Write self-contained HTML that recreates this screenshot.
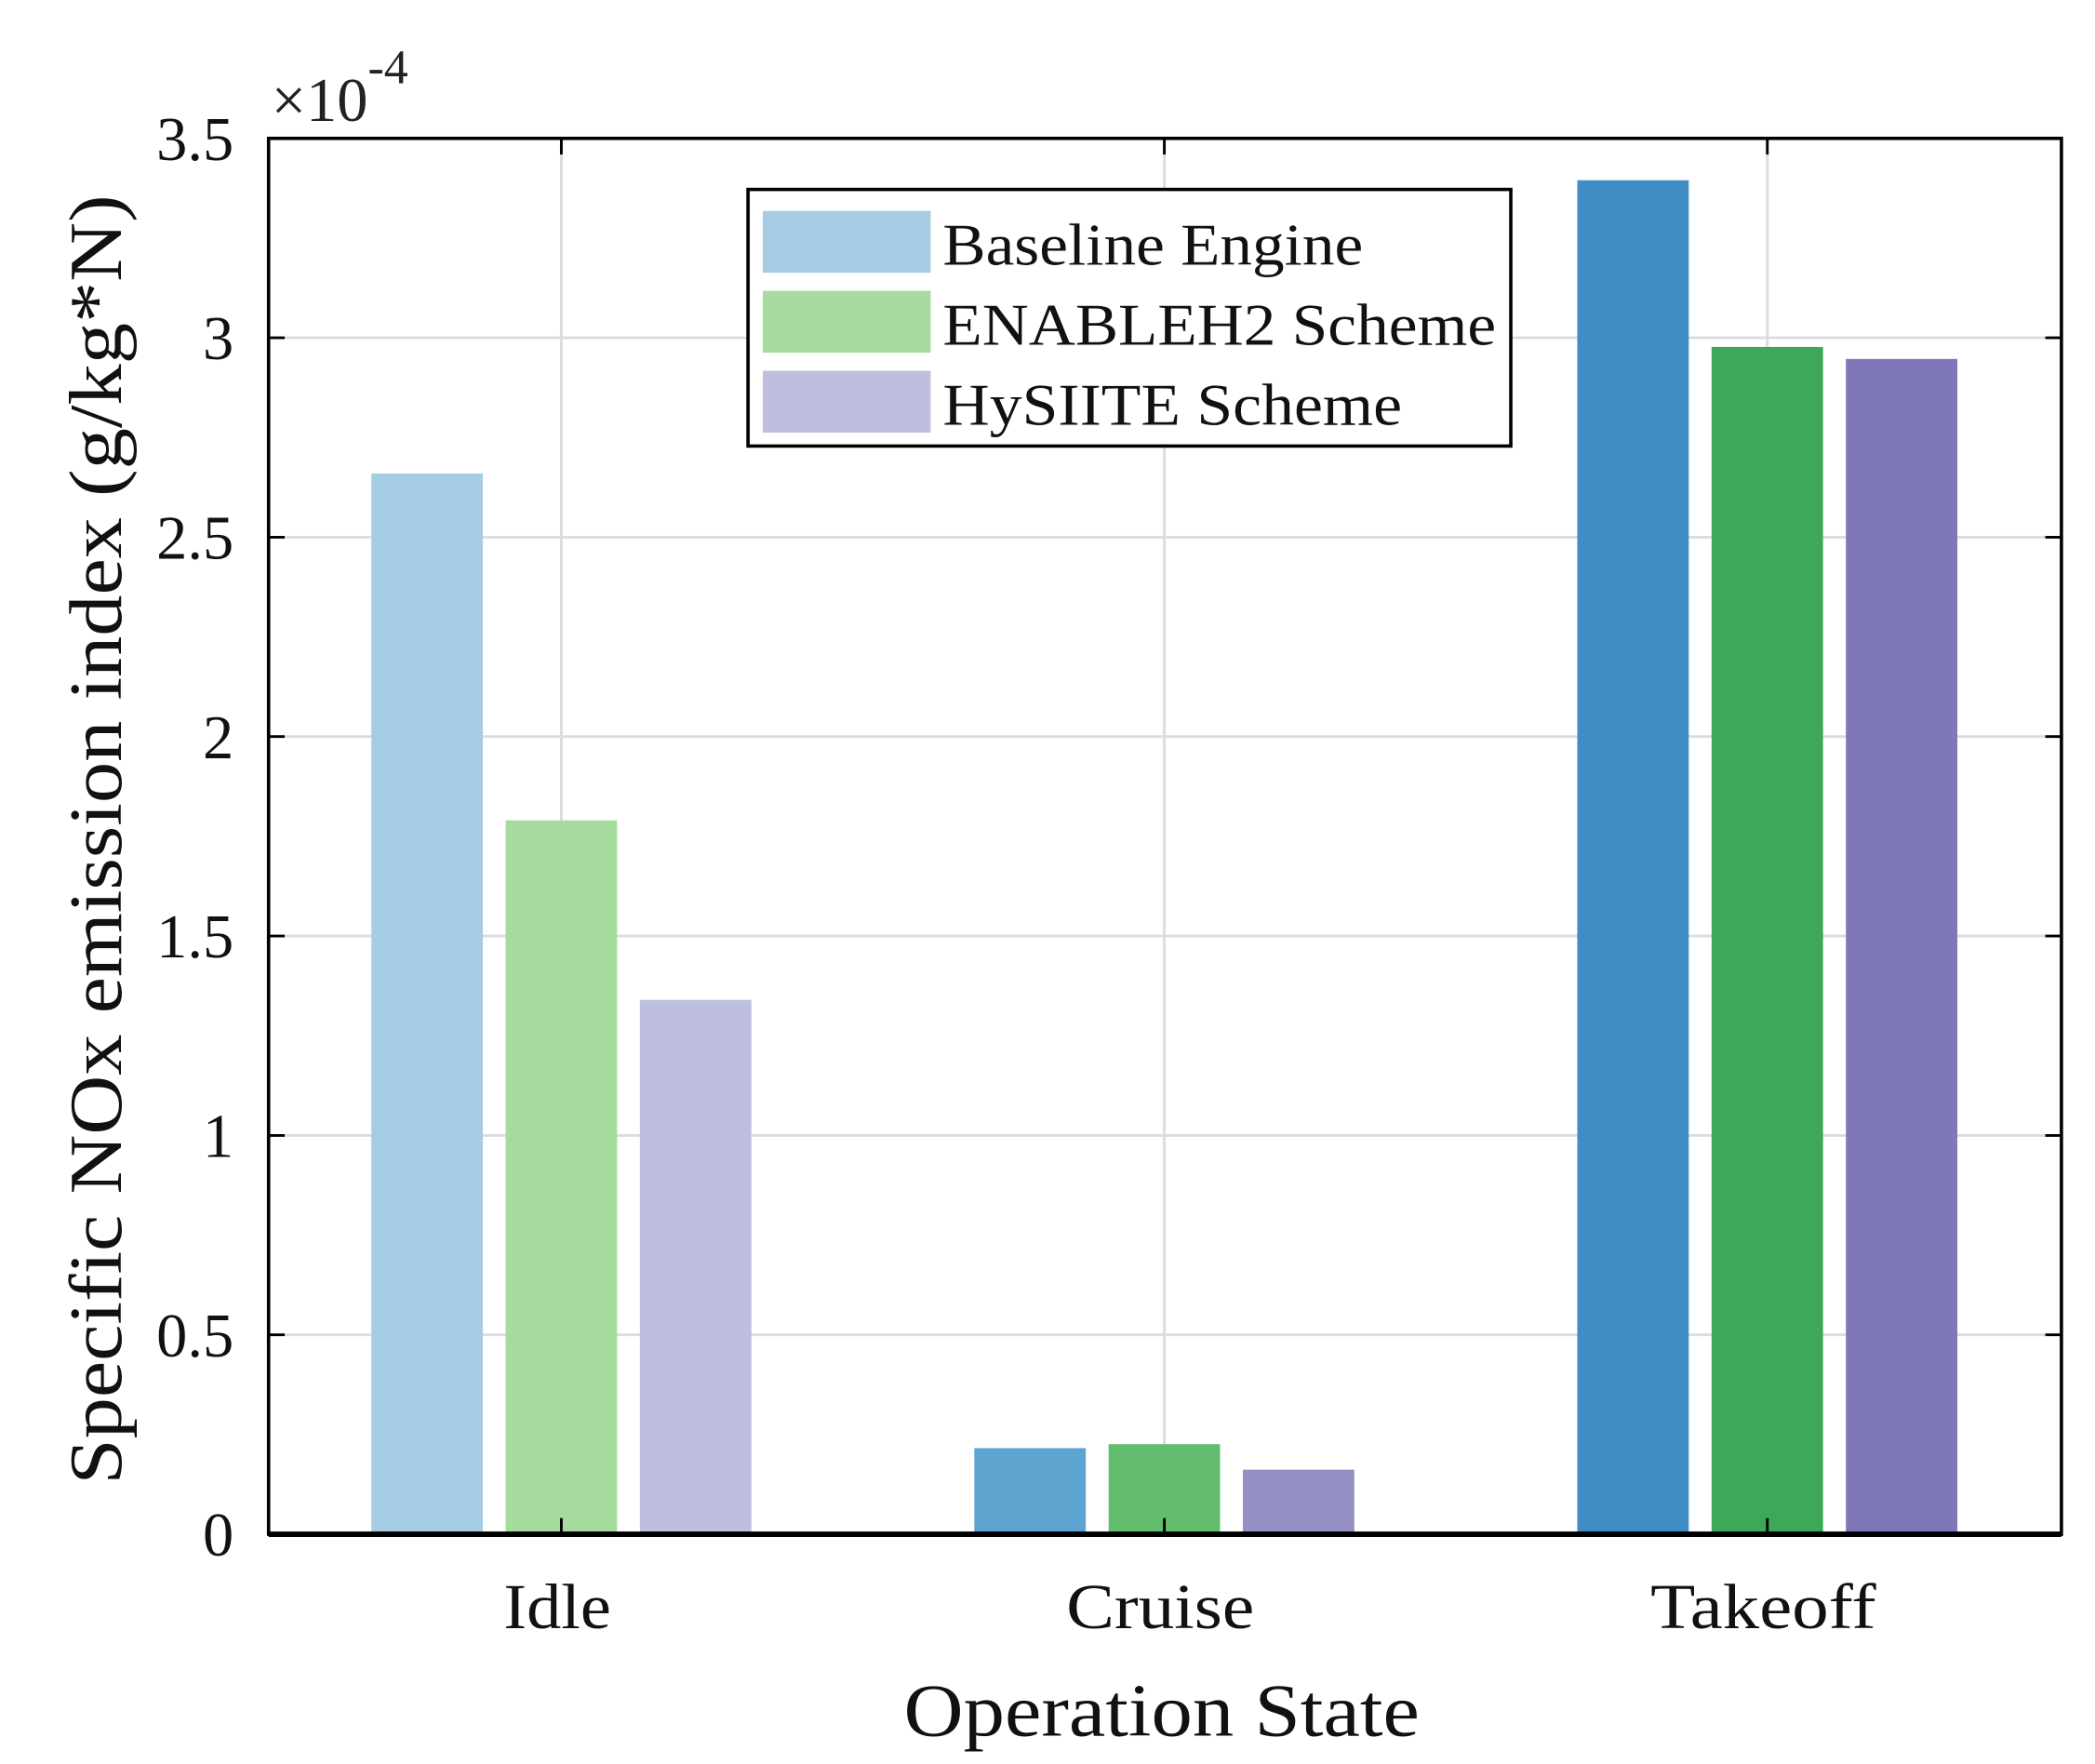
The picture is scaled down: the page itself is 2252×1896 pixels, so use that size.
<!DOCTYPE html>
<html><head><meta charset="utf-8"><style>
html,body{margin:0;padding:0;background:#fff;}
svg{display:block;font-family:"Liberation Serif",serif;}
</style></head><body>
<svg id="chart" width="2252" height="1896" viewBox="0 0 1560 1313" preserveAspectRatio="none" xmlns="http://www.w3.org/2000/svg">
<g id="grid"></g><g id="bars"></g><g id="axes"></g>
</svg>
<script>
const categories = ["Idle", "Cruise", "Takeoff"];
const seriesNames = ["Baseline Engine", "ENABLEH2 Scheme", "HySIITE Scheme"];
const baseline = [2.66, 0.216, 3.395];
const enableh2 = [1.79, 0.226, 2.977];
const hysiite = [1.34, 0.162, 2.947];
const yTicks = [0, 0.5, 1, 1.5, 2, 2.5, 3, 3.5];
const yTickLabels = ["0", "0.5", "1", "1.5", "2", "2.5", "3", "3.5"];

const NS = "http://www.w3.org/2000/svg";
const L = 200, R = 1535, T = 103, B = 1142;
const yMax = 3.5;
function y(v){ return B - (v / yMax) * (B - T); }
function x(i){ return 418 + 449 * i; }
const series = [baseline, enableh2, hysiite];
const offsets = [-100, 0, 100];
const barW = 83;
const colors = [
  ["#a6cce3", "#a6db9e", "#bebfde"],
  ["#5ea4d0", "#63bd6e", "#9590c4"],
  ["#3f8dc4", "#3ea85a", "#7f78b8"]
];
const legendLens = [313, 412, 342];
const catLens = [80, 140, 168];
function mk(tag, attrs, parent){
  const e = document.createElementNS(NS, tag);
  for (const k in attrs) e.setAttribute(k, attrs[k]);
  parent.appendChild(e); return e;
}
const grid = document.getElementById("grid");
const bars = document.getElementById("bars");
const axes = document.getElementById("axes");

yTicks.forEach((t, i) => {
  const gl = mk("line", {x1:L, x2:R, y1:y(t), y2:y(t), stroke:"#dcdcdc", "stroke-width":2}, grid);
  
  
  const tl = mk("line", {x1:L, x2:L+12, y1:y(t), y2:y(t), stroke:"#000", "stroke-width":2}, axes);
  
  
  const tr = mk("line", {x1:R-12, x2:R, y1:y(t), y2:y(t), stroke:"#000", "stroke-width":2}, axes);
  
  
  const lab = mk("text", {x:174, y:y(t)+16, "text-anchor":"end", "font-size":46, fill:"#111"}, axes);
  lab.textContent = yTickLabels[i];
  
  
});
categories.forEach((c, i) => {
  const gl = mk("line", {x1:x(i), x2:x(i), y1:T, y2:B, stroke:"#dcdcdc", "stroke-width":2}, grid);
  
  
  series.forEach((s, j) => {
    const v = s[i];
    const r = mk("rect", {x:x(i)+offsets[j]-barW/2, y:y(v), width:barW, height:B-y(v), fill:colors[i][j]}, bars);
    
    
  });
  const tb = mk("line", {x1:x(i), x2:x(i), y1:B-12, y2:B, stroke:"#000", "stroke-width":2}, axes);
  
  
  const tt = mk("line", {x1:x(i), x2:x(i), y1:T, y2:T+12, stroke:"#000", "stroke-width":2}, axes);
  
  
  const lab = mk("text", {x:x(i)-3, y:1212, "text-anchor":"middle", "font-size":48, textLength:catLens[i], lengthAdjust:"spacingAndGlyphs", fill:"#111"}, axes);
  lab.textContent = c;
  
  
});
const frame = mk("rect", {x:L, y:T, width:R-L, height:B-T, fill:"none", stroke:"#000", "stroke-width":2.5}, axes);


const base = mk("line", {x1:L, x2:R, y1:B, y2:B, stroke:"#000", "stroke-width":4}, axes);



const mult = mk("text", {x:202, y:90, "font-size":46, fill:"#222"}, axes);
mult.innerHTML = '×10<tspan dy="-28" font-size="36">-4</tspan>';



const yt = mk("text", {x:0, y:0, transform:"translate(90,625) rotate(-90)", "text-anchor":"middle", "font-size":56, textLength:960, lengthAdjust:"spacingAndGlyphs", fill:"#111"}, axes);
yt.textContent = "Specific NOx emission index (g/kg*N)";


const xt = mk("text", {x:865, y:1292, "text-anchor":"middle", "font-size":56, textLength:384, lengthAdjust:"spacingAndGlyphs", fill:"#111"}, axes);
xt.textContent = "Operation State";



const leg = mk("g", {}, axes);


const lb = mk("rect", {x:557, y:141, width:568, height:191, fill:"#fff", stroke:"#000", "stroke-width":2.5}, leg);


seriesNames.forEach((n, j) => {
  const yy = 157 + j * 59.5;
  const sw = mk("rect", {x:568, y:yy, width:125, height:46, fill:colors[0][j]}, leg);
  
  
  const t = mk("text", {x:702, y:yy+40, "font-size":44, textLength:legendLens[j], lengthAdjust:"spacingAndGlyphs", fill:"#111"}, leg);
  t.textContent = n;
  
  
});
</script>
</body></html>
